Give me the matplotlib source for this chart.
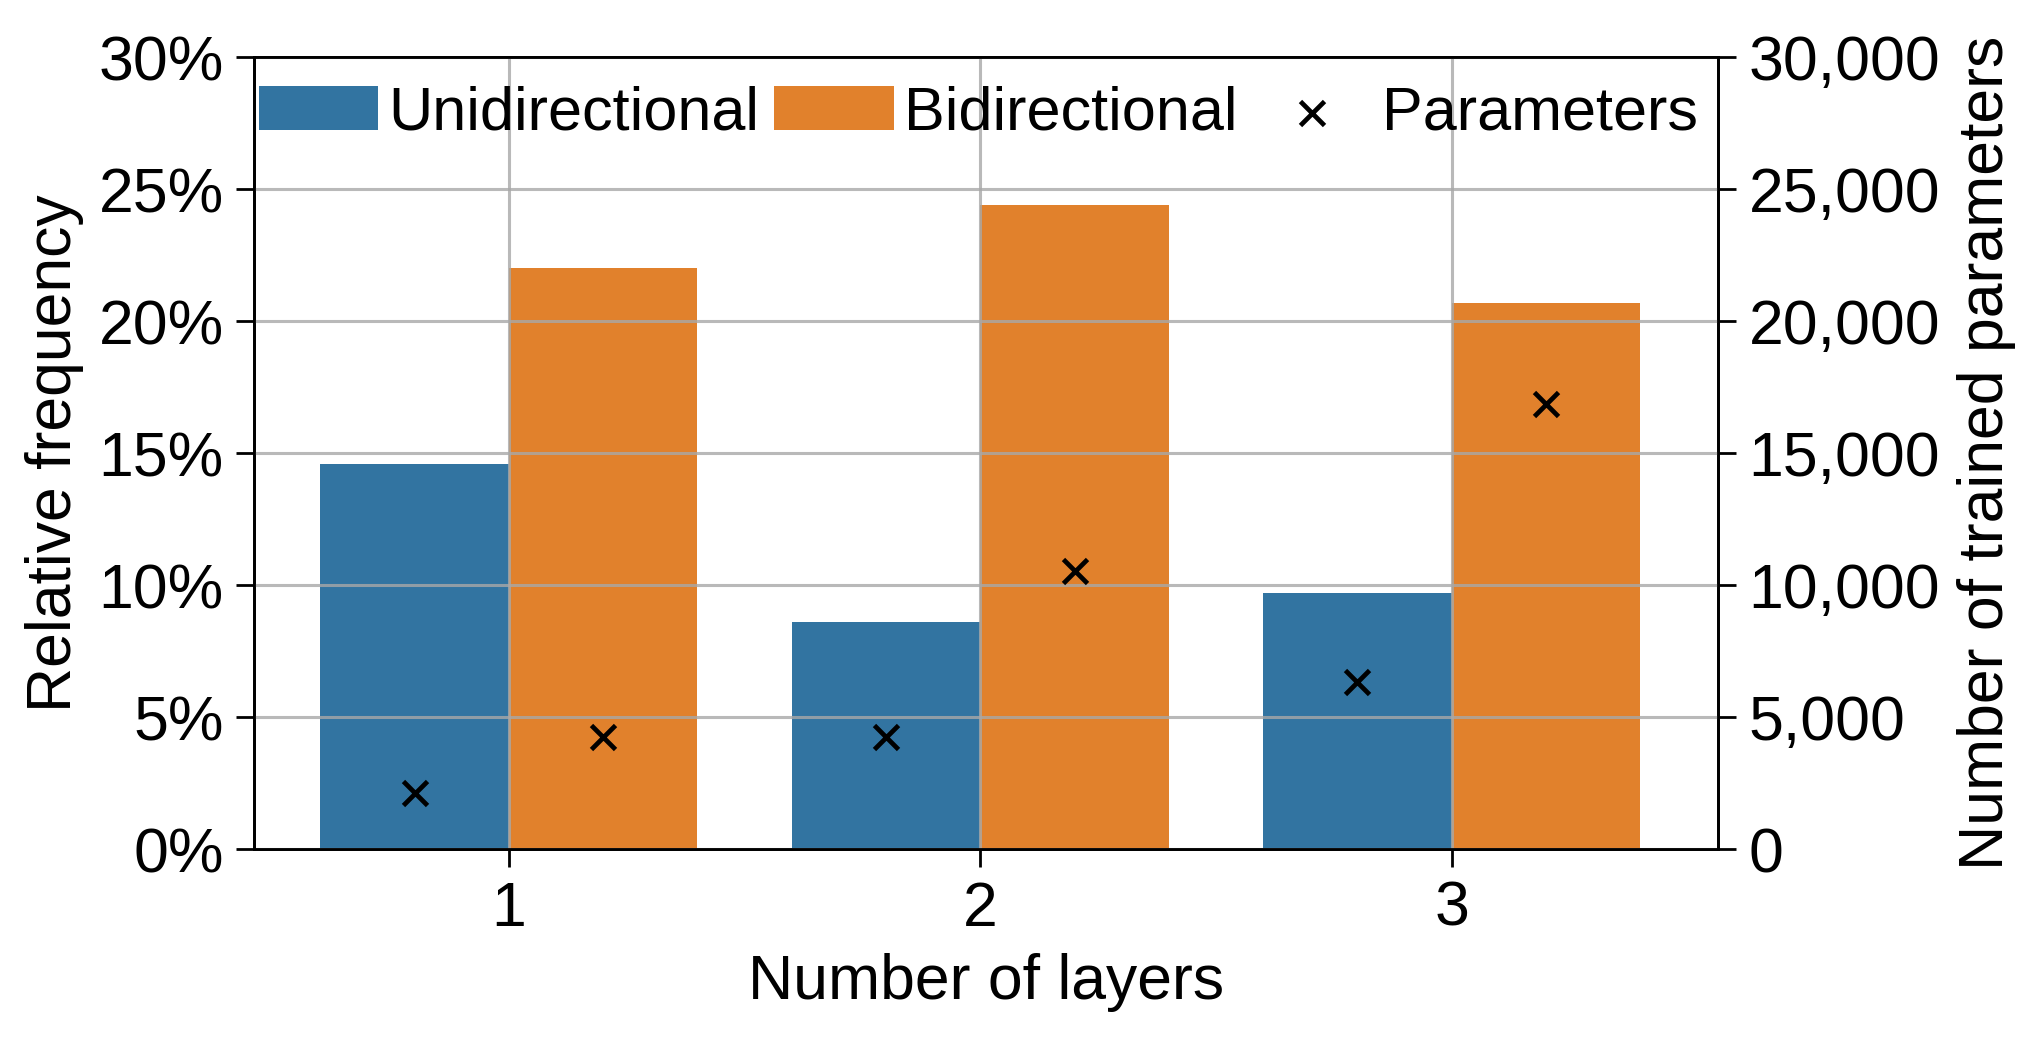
import numpy as np
import matplotlib.pyplot as plt
from matplotlib.ticker import FuncFormatter

plt.rcParams['font.family'] = ['Liberation Sans', 'DejaVu Sans']

# data
layers = ['1', '2', '3']
uni_freq = [14.6, 8.6, 9.7]      # % of runs
bi_freq = [22.0, 24.4, 20.7]
uni_params = [2150, 4250, 6350]
bi_params = [4250, 10550, 16850]

c_uni = '#3274a1'
c_bi = '#e1812c'
fs = 45

fig, ax = plt.subplots(figsize=(20.26, 10.46), dpi=100)
fig.subplots_adjust(left=0.1255, right=0.848, top=0.9455, bottom=0.188)

x = np.arange(len(layers))
w = 0.4
ax.bar(x - w/2, uni_freq, w, color=c_uni, label='Unidirectional')
ax.bar(x + w/2, bi_freq, w, color=c_bi, label='Bidirectional')

ax.set_xlim(-0.54, 2.565)
ax.set_ylim(0, 30)
ax.set_yticks(np.arange(0, 31, 5))
ax.yaxis.set_major_formatter(FuncFormatter(lambda v, p: f'{v:.0f}%'))
ax.set_xticks(x)
ax.set_xticklabels(layers)
ax.set_axisbelow(False)
ax.grid(True, color='#a8a8a8', alpha=0.8, lw=2.2)
ax.set_xlabel('Number of layers', fontsize=fs, labelpad=10)
ax.set_ylabel('Relative frequency', fontsize=fs, labelpad=10)

ax2 = ax.twinx()
ax2.scatter(np.concatenate([x - w/2, x + w/2]), uni_params + bi_params,
            marker='x', color='black', s=300, linewidths=3.4, zorder=5,
            label='Parameters')
ax2.set_ylim(0, 30000)
ax2.set_yticks(np.arange(0, 30001, 5000))
ax2.yaxis.set_major_formatter(FuncFormatter(lambda v, p: f'{v:,.0f}'))
ax2.set_ylabel('Number of trained parameters', fontsize=fs, labelpad=12)

for a in (ax, ax2):
    a.tick_params(labelsize=fs, length=13, width=2, pad=9, color='black')
    for s in a.spines.values():
        s.set_color('black')
        s.set_linewidth(2)

h1, l1 = ax.get_legend_handles_labels()
h2, l2 = ax2.get_legend_handles_labels()
ax2.legend(h1 + h2, l1 + l2, loc='center left', bbox_to_anchor=(0.003, 0.928),
           ncol=3, frameon=False, fontsize=44, borderpad=0, borderaxespad=0,
           handlelength=1.95, handleheight=0.72, handletextpad=0.17,
           columnspacing=0.25)

fig.savefig('out.png', dpi=100)
